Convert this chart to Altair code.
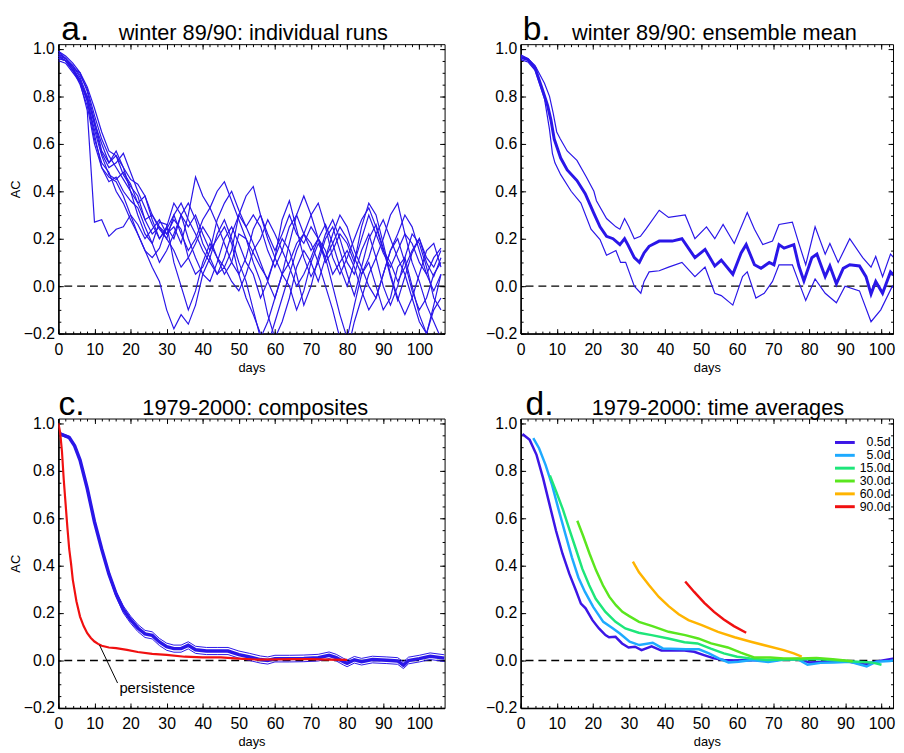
import altair as alt
import pandas as pd

FONT = "Liberation Sans"
BLUE = "#2a16e8"
RED = "#f01010"

# -----------------------------
# AXES
# -----------------------------
Y_MIN, Y_MAX = -0.2, 1.02
X_MAX_LEFT = 107
X_MAX_RIGHT = 103.2
X_MAJOR = [0, 10, 20, 30, 40, 50, 60, 70, 80, 90, 100]
X_MINOR = list(range(0, 108, 2))
Y_MAJOR = [-0.2, 0.0, 0.2, 0.4, 0.6, 0.8, 1.0]
Y_MINOR = [-0.2, -0.15, -0.1, -0.05, 0.0, 0.05, 0.1, 0.15, 0.2, 0.25, 0.3, 0.35,
           0.4, 0.45, 0.5, 0.55, 0.6, 0.65, 0.7, 0.75, 0.8, 0.85, 0.9, 0.95, 1.0]

W_LEFT, W_RIGHT, H = 391, 377, 293

# -----------------------------
# a. individual runs (every 2 days)
# -----------------------------
run_days = list(range(0, 107, 2))
run_01 = [0.97, 0.95, 0.91, 0.86, 0.74, 0.27, 0.28, 0.21, 0.24, 0.25,
          0.30, 0.26, 0.20, 0.24, 0.28, 0.22, 0.25, 0.18, 0.30, 0.46,
          0.38, 0.33, 0.40, 0.44, 0.36, 0.28, 0.20, 0.14, 0.08, 0.03,
          0.12, 0.28, 0.36, 0.24, 0.12, 0.04, 0.10, 0.20, 0.25, 0.15,
          0.05, -0.04, 0.08, 0.20, 0.26, 0.16, 0.04, -0.06, 0.04, 0.14,
          0.20, 0.10, 0.04, 0.12]
run_02 = [0.96, 0.95, 0.92, 0.90, 0.82, 0.70, 0.57, 0.52, 0.55, 0.47,
          0.42, 0.38, 0.28, 0.22, 0.25, 0.20, 0.30, 0.35, 0.28, 0.22,
          0.15, 0.10, 0.05, 0.12, 0.22, 0.30, 0.25, 0.18, 0.10, 0.02,
          -0.05, 0.05, 0.18, 0.30, 0.22, 0.15, 0.20, 0.26, 0.18, 0.08,
          0.00, 0.10, 0.25, 0.35, 0.30, 0.18, 0.05, -0.05, -0.12, -0.05,
          0.05, 0.15, 0.18, 0.08]
run_03 = [0.99, 0.96, 0.92, 0.87, 0.78, 0.62, 0.52, 0.48, 0.40, 0.35,
          0.28, 0.22, 0.15, 0.08, 0.02, -0.10, -0.18, -0.12, -0.16, -0.08,
          0.05, 0.12, 0.22, 0.28, 0.20, 0.10, 0.02, -0.10, -0.22, -0.15,
          -0.05, 0.05, 0.00, -0.10, -0.02, 0.10, 0.18, 0.12, 0.00, -0.12,
          -0.22, -0.08, 0.05, 0.10, 0.00, -0.10, -0.05, 0.08, 0.12, 0.00,
          -0.12, -0.20, -0.10, -0.05]
run_04 = [0.98, 0.96, 0.93, 0.88, 0.80, 0.68, 0.56, 0.50, 0.52, 0.56,
          0.48, 0.40, 0.33, 0.26, 0.20, 0.24, 0.30, 0.22, 0.15, 0.20,
          0.28, 0.33, 0.26, 0.18, 0.10, 0.05, 0.12, 0.24, 0.30, 0.22,
          0.15, 0.22, 0.30, 0.22, 0.18, 0.25, 0.20, 0.10, 0.15, 0.22,
          0.18, 0.10, 0.20, 0.30, 0.22, 0.14, 0.08, 0.15, 0.22, 0.18,
          0.10, 0.05, 0.12, 0.16]
run_05 = [0.96, 0.95, 0.91, 0.85, 0.76, 0.60, 0.50, 0.46, 0.44, 0.38,
          0.30, 0.22, 0.15, 0.12, 0.16, 0.25, 0.35, 0.30, 0.20, 0.12,
          0.05, 0.02, 0.10, 0.20, 0.25, 0.18, 0.10, 0.05, -0.05, 0.02,
          0.12, 0.20, 0.15, 0.05, -0.08, 0.00, 0.12, 0.22, 0.28, 0.20,
          0.10, 0.05, 0.15, 0.22, 0.12, 0.00, -0.08, 0.00, 0.12, 0.22,
          0.18, 0.08, -0.05, -0.10]
run_06 = [0.97, 0.96, 0.93, 0.89, 0.83, 0.72, 0.62, 0.55, 0.50, 0.45,
          0.40, 0.30, 0.22, 0.18, 0.27, 0.26, 0.10, 0.00, -0.10, -0.02,
          0.10, 0.18, 0.12, 0.05, 0.10, 0.22, 0.20, 0.10, 0.02, -0.12,
          -0.22, -0.15, -0.05, 0.08, 0.15, 0.10, 0.02, 0.12, 0.22, 0.30,
          0.25, 0.15, 0.08, 0.00, -0.05, 0.05, 0.15, 0.20, 0.10, -0.02,
          -0.10, -0.05, 0.05, 0.10]
run_07 = [0.98, 0.96, 0.92, 0.86, 0.78, 0.66, 0.55, 0.47, 0.45, 0.48,
          0.43, 0.35, 0.28, 0.30, 0.24, 0.20, 0.15, 0.08, 0.12, 0.18,
          0.25, 0.20, 0.12, 0.08, 0.15, 0.30, 0.38, 0.42, 0.30, 0.20,
          0.12, 0.05, 0.10, 0.18, 0.22, 0.30, 0.35, 0.25, 0.12, 0.05,
          0.12, 0.20, 0.28, 0.33, 0.25, 0.15, 0.10, 0.02, 0.08, 0.15,
          0.20, 0.12, 0.08, 0.15]
run_08 = [0.95, 0.94, 0.90, 0.86, 0.80, 0.69, 0.60, 0.52, 0.57, 0.50,
          0.45, 0.43, 0.38, 0.28, 0.20, 0.25, 0.20, 0.30, 0.35, 0.28,
          0.18, 0.12, 0.05, 0.08, 0.02, -0.02, 0.05, 0.15, 0.20, 0.28,
          0.22, 0.15, 0.08, 0.00, 0.05, 0.12, 0.20, 0.15, 0.05, 0.10,
          0.15, 0.08, -0.02, -0.10, -0.05, 0.05, 0.15, 0.22, 0.30, 0.25,
          0.15, 0.05, -0.02, 0.05]
run_09 = [0.97, 0.95, 0.91, 0.87, 0.79, 0.64, 0.50, 0.44, 0.46, 0.40,
          0.36, 0.33, 0.25, 0.18, 0.10, 0.15, 0.22, 0.30, 0.25, 0.30,
          0.22, 0.15, 0.20, 0.25, 0.18, 0.05, -0.05, -0.12, -0.20, -0.25,
          -0.15, -0.05, 0.05, 0.15, 0.22, 0.18, 0.10, 0.00, -0.10, -0.22,
          -0.28, -0.15, -0.05, 0.05, 0.12, 0.20, 0.30, 0.35, 0.22, 0.10,
          0.02, -0.08, -0.15, -0.22]
run_10 = [0.99, 0.97, 0.94, 0.90, 0.84, 0.75, 0.65, 0.57, 0.55, 0.50,
          0.40, 0.35, 0.38, 0.30, 0.25, 0.22, 0.28, 0.24, 0.12, 0.05,
          0.08, 0.15, 0.28, 0.35, 0.40, 0.32, 0.25, 0.30, 0.25, 0.15,
          0.08, 0.15, 0.25, 0.30, 0.38, 0.30, 0.20, 0.12, 0.18, 0.25,
          0.20, 0.12, 0.05, 0.12, 0.22, 0.28, 0.20, 0.12, 0.05, -0.05,
          -0.15, -0.20, -0.08, 0.05]
runs = [run_01, run_02, run_03, run_04, run_05, run_06, run_07, run_08, run_09, run_10]

# -----------------------------
# b. ensemble mean and spread
# -----------------------------
mean_days = [0, 2, 4, 6, 7.5, 8.4, 9.3, 11.1, 12.9, 15.6, 17.9, 20.2, 22, 23.8, 25.6,
             27.5, 28.8, 29.7, 31.5, 32.9, 34.2, 35.6, 38.4, 42, 44.7, 48.3, 51.1, 53.8,
             55.6, 58.8, 61.1, 62.5, 64.8, 66.6, 68.9, 70.2, 71.6, 73, 75.7, 77.1, 78.5,
             80.7, 82.1, 84.4, 85.7, 87.5, 89.4, 91.2, 93.9, 95.7, 97.1, 98.4, 100.3,
             102.5, 105.3]
mean_ac = [0.965, 0.955, 0.92, 0.83, 0.76, 0.70, 0.62, 0.54, 0.49, 0.445, 0.39, 0.31,
           0.25, 0.21, 0.20, 0.175, 0.20, 0.175, 0.12, 0.10, 0.14, 0.168, 0.19, 0.19,
           0.20, 0.12, 0.155, 0.085, 0.11, 0.05, 0.14, 0.175, 0.09, 0.075, 0.10, 0.09,
           0.175, 0.16, 0.175, 0.085, 0.022, 0.12, 0.135, 0.04, 0.085, 0.01, 0.075,
           0.09, 0.085, 0.04, -0.033, 0.02, -0.03, 0.06, 0.02]
upper_days = [0, 2, 4, 6.6, 8, 9, 10, 11, 12.9, 15.6, 18.2, 20.3, 21, 23.8, 26.4, 27.5,
              28.8, 30, 31.5, 33.2, 34.7, 38.4, 41, 45.6, 48.3, 51.5, 53.8, 56.1, 59.2,
              62.8, 64.8, 67.1, 69.8, 71.6, 75.3, 77.1, 79, 81.6, 84.4, 85.7, 88, 91.2,
              94.8, 97.1, 98.4, 100.3, 102.5, 105.3]
upper_ac = [0.975, 0.96, 0.93, 0.855, 0.80, 0.73, 0.65, 0.62, 0.57, 0.53, 0.46, 0.40,
            0.36, 0.285, 0.25, 0.24, 0.285, 0.25, 0.20, 0.21, 0.24, 0.32, 0.29, 0.30,
            0.20, 0.25, 0.20, 0.26, 0.18, 0.31, 0.24, 0.175, 0.19, 0.26, 0.27, 0.18,
            0.09, 0.25, 0.135, 0.18, 0.10, 0.20, 0.12, 0.08, 0.125, 0.04, 0.135, 0.09]
lower_days = [0, 2, 4, 6.6, 8, 8.8, 9.5, 11.1, 14, 16.7, 19.5, 22, 23.8, 26.4, 27.7,
              29.1, 31.5, 33.3, 34.2, 35.6, 38.4, 41, 44.7, 48.3, 51.1, 53.8, 55.6, 58.8,
              61.5, 62.8, 65.2, 67.5, 69.8, 71.6, 75.3, 77.5, 79, 81.6, 84.4, 87.5, 89.9,
              93.9, 97.1, 99.8, 103, 105.3]
lower_ac = [0.955, 0.945, 0.91, 0.79, 0.66, 0.56, 0.52, 0.47, 0.40, 0.35, 0.24, 0.196,
            0.13, 0.15, 0.10, 0.10, 0.0, -0.03, 0.02, 0.06, 0.065, 0.08, 0.10, 0.04,
            0.08, -0.03, -0.04, -0.08, 0.04, 0.06, -0.05, -0.03, 0.02, 0.09, 0.09, 0.0,
            -0.06, 0.03, -0.03, -0.07, 0.0, -0.02, -0.15, -0.10, 0.0, -0.05]

# -----------------------------
# c. composites and persistence
# -----------------------------
comp_days = [0.5, 3, 4.5, 6, 8, 10, 12, 14, 16, 18, 20, 22, 24, 26, 28, 30, 32, 34, 36,
             38, 41, 44, 47, 50, 53, 56, 58, 60, 64, 68, 72, 75, 77, 79, 80, 82, 84, 87,
             91, 94, 95.6, 97, 100, 103, 107]
comp_mid = [0.955, 0.94, 0.905, 0.845, 0.725, 0.585, 0.47, 0.365, 0.28, 0.215, 0.172,
            0.137, 0.112, 0.106, 0.078, 0.058, 0.05, 0.05, 0.064, 0.045, 0.04, 0.04,
            0.04, 0.025, 0.015, 0.004, 0.0, 0.008, 0.008, 0.009, 0.012, 0.022, 0.012,
            -0.005, -0.012, 0.003, -0.005, 0.004, 0.001, -0.002, -0.02, 0.0, 0.008,
            0.018, 0.01]
comp_hi = [0.96, 0.945, 0.91, 0.85, 0.73, 0.59, 0.475, 0.372, 0.29, 0.23, 0.187, 0.152,
           0.127, 0.121, 0.093, 0.073, 0.065, 0.065, 0.079, 0.06, 0.055, 0.055, 0.055,
           0.04, 0.03, 0.019, 0.015, 0.022, 0.022, 0.023, 0.026, 0.036, 0.026, 0.009,
           0.002, 0.017, 0.009, 0.018, 0.015, 0.012, -0.006, 0.014, 0.022, 0.032, 0.024]
comp_lo = [0.95, 0.935, 0.90, 0.84, 0.72, 0.58, 0.463, 0.356, 0.268, 0.2, 0.157, 0.122,
           0.097, 0.091, 0.063, 0.043, 0.035, 0.035, 0.049, 0.03, 0.025, 0.025, 0.025,
           0.01, 0.0, -0.011, -0.015, -0.006, -0.006, -0.005, -0.002, 0.008, -0.002,
           -0.019, -0.026, -0.011, -0.019, -0.01, -0.013, -0.016, -0.034, -0.014,
           -0.006, 0.004, -0.004]
pers_days = [0, 0.5, 1, 1.5, 2, 2.5, 3, 3.5, 4, 5, 6, 7, 8, 9, 10, 11, 12, 14, 16, 19,
             22, 26, 30, 35, 40, 45, 50, 55, 60, 65, 70, 75, 80]
pers_ac = [1.0, 0.96, 0.88, 0.76, 0.66, 0.56, 0.47, 0.41, 0.34, 0.25, 0.185, 0.145,
           0.115, 0.095, 0.08, 0.07, 0.062, 0.055, 0.052, 0.045, 0.036, 0.028, 0.024,
           0.016, 0.013, 0.013, 0.008, 0.004, 0.005, 0.006, 0.006, 0.004, 0.003]
note_label = "persistence"
note_day, note_ac = 16.9, -0.137
leader_day, leader_ac = [11.4, 16.4], [0.065, -0.095]

# -----------------------------
# d. time averages
# -----------------------------
WINDOWS = ["0.5d", "5.0d", "15.0d", "30.0d", "60.0d", "90.0d"]
WINDOW_COLORS = ["#3c16e6", "#1eaaff", "#1ee67a", "#5ae61e", "#ffb400", "#f01010"]
d05_days = [0.5, 2.5, 4.4, 6.2, 8, 9.8, 11.6, 13.5, 15.3, 16.7, 18, 19.9, 21.7, 23.5,
            24.5, 26.3, 28.1, 29.9, 31.7, 33.5, 36.3, 39, 45.4, 48.1, 50.8, 53.6, 56.3,
            59, 63.6, 68.1, 72.7, 77.3, 80, 84.6, 89.1, 95.5, 98.3, 101.9, 105.1]
d05_ac = [0.955, 0.93, 0.867, 0.77, 0.658, 0.547, 0.45, 0.365, 0.296, 0.24, 0.22, 0.17,
          0.135, 0.107, 0.098, 0.10, 0.072, 0.055, 0.058, 0.044, 0.06, 0.042, 0.042,
          0.037, 0.023, 0.009, 0.002, 0.0, 0.002, 0.0, 0.004, 0.006, -0.008, -0.005,
          0.0, -0.017, -0.005, 0.004, 0.013]
d5_days = [3.5, 5.1, 6.9, 8.7, 10.5, 12.4, 14.2, 16, 17.8, 20.1, 22.9, 25.6, 27.5, 30.2,
           32.9, 36.6, 39.4, 45.8, 49.4, 52.2, 54.9, 57.6, 60.4, 64, 68.6, 73.1, 76.8,
           79.5, 83.1, 86.8, 91.3, 95.9, 98.6, 102.3, 105.5]
d5_ac = [0.937, 0.895, 0.825, 0.74, 0.637, 0.533, 0.435, 0.35, 0.29, 0.226, 0.163,
         0.135, 0.114, 0.079, 0.065, 0.075, 0.051, 0.047, 0.047, 0.03, 0.009, -0.008,
         -0.005, 0.002, -0.006, 0.004, 0.006, -0.018, -0.01, -0.008, -0.005, -0.025,
         -0.005, -0.002, 0.006]
d15_days = [8.1, 9.8, 11.7, 13.5, 15.3, 17.1, 19, 20.8, 23.5, 26.3, 29, 32.7, 36.3, 40.9,
            45.4, 49, 52.7, 56.3, 60, 63.6, 68.1, 72.7, 77.3, 81.8, 86.3, 90.9, 94.6,
            97.3, 100]
d15_ac = [0.78, 0.714, 0.637, 0.553, 0.47, 0.386, 0.317, 0.26, 0.205, 0.163, 0.135,
          0.117, 0.107, 0.093, 0.077, 0.072, 0.05, 0.03, 0.016, 0.009, 0.002, 0.004,
          0.004, 0.006, 0.002, -0.003, -0.006, -0.008, -0.018]
d30_days = [15.7, 17.3, 19.1, 20.9, 22.8, 24.6, 26.4, 28.2, 30.1, 32.8, 36.5, 41, 45.6,
            49.2, 52.8, 57.4, 61, 64.7, 69.2, 72.9, 77.4, 82, 86.5, 92]
d30_ac = [0.589, 0.526, 0.45, 0.38, 0.317, 0.268, 0.233, 0.205, 0.187, 0.163, 0.145,
          0.121, 0.107, 0.093, 0.072, 0.055, 0.033, 0.013, 0.013, 0.009, 0.009, 0.011,
          0.005, -0.003]
d60_days = [31.1, 32.8, 35.6, 38.3, 41, 43.8, 46.5, 50.2, 54.7, 59.3, 63.8, 68.4, 72.9,
            75.7, 77.9]
d60_ac = [0.417, 0.372, 0.317, 0.268, 0.229, 0.195, 0.17, 0.149, 0.121, 0.098, 0.079,
          0.061, 0.044, 0.03, 0.016]
d90_days = [45.6, 48.1, 50.9, 53.6, 56.3, 59.1, 62.5]
d90_ac = [0.333, 0.289, 0.243, 0.205, 0.173, 0.145, 0.117]


ANCHOR = pd.DataFrame({"day": [0.0], "ac": [0.0]})


def scales(xmax):
    xs = alt.Scale(domain=[0, xmax], nice=False, zero=False)
    ys = alt.Scale(domain=[Y_MIN, Y_MAX], nice=False, zero=False)
    return xs, ys


def line_df(days, values, name="s"):
    return pd.DataFrame({"day": days, "ac": values, "series": name})


def line(df, xs, ys, color, width):
    return (
        alt.Chart(df)
        .mark_line(color=color, strokeWidth=width, clip=True)
        .encode(
            x=alt.X("day:Q", scale=xs, axis=None),
            y=alt.Y("ac:Q", scale=ys, axis=None),
            detail="series:N",
        )
    )


def frame_layers(xs, ys, w, y_title):
    # labelled axes outside, IDL style inward ticks on all four sides
    out = [
        alt.Chart(ANCHOR).mark_point(opacity=0).encode(
            x=alt.X("day:Q", scale=xs, axis=alt.Axis(
                orient="bottom", values=X_MAJOR, ticks=False, grid=False,
                domain=True, domainColor="black", domainWidth=1.5,
                labelPadding=8, labelFlush=False, labelOverlap=False, format="d",
                title="days", titlePadding=4)),
            y=alt.Y("ac:Q", scale=ys, axis=alt.Axis(
                orient="left", values=Y_MAJOR, ticks=False, grid=False,
                domain=True, domainColor="black", domainWidth=1.5,
                labelPadding=4, labelFlush=False, labelOverlap=False, format=".1f",
                title=y_title, titlePadding=1)),
        )
    ]
    for x_orient, y_orient in (("top", "right"), ("bottom", "left")):
        for vx, vy, size in ((X_MAJOR, Y_MAJOR, 5), (X_MINOR, Y_MINOR, 2.5)):
            out.append(alt.Chart(ANCHOR).mark_point(opacity=0).encode(
                x=alt.X("day:Q", scale=xs, axis=alt.Axis(
                    orient=x_orient, offset=-H, values=vx, tickSize=size,
                    labels=False, domain=False, grid=False, title=None)),
                y=alt.Y("ac:Q", scale=ys, axis=alt.Axis(
                    orient=y_orient, offset=-w, values=vy, tickSize=size,
                    labels=False, domain=False, grid=False, title=None)),
            ))
    return out


def zero_rule(ys):
    return alt.Chart(ANCHOR).mark_rule(color="black", strokeDash=[8, 5], strokeWidth=1.3).encode(
        y=alt.YDatum(0, scale=ys, axis=None)
    )


def heading(text, dx, size):
    return alt.Chart(ANCHOR).mark_text(
        text=text, font=FONT, fontSize=size, align="left", baseline="alphabetic", color="black"
    ).encode(x=alt.value(dx), y=alt.value(-4))


def panel(data_layers, xs, ys, w, ch, ch_dx, title, title_dx, y_title=None):
    layers = (
        [zero_rule(ys)]
        + data_layers
        + frame_layers(xs, ys, w, y_title)
        + [heading(ch, ch_dx, 34), heading(title, title_dx, 22)]
    )
    return (
        alt.layer(*layers)
        .resolve_axis(x="independent", y="independent")
        .properties(width=w, height=H)
    )


# -----------------------------
# PANELS
# -----------------------------
xs_a, ys_a = scales(X_MAX_LEFT)
runs_df = pd.concat(
    [line_df(run_days, r, "run%02d" % (i + 1)) for i, r in enumerate(runs)], ignore_index=True
)
panel_a = panel(
    [line(runs_df, xs_a, ys_a, BLUE, 1.2)],
    xs_a, ys_a, W_LEFT, "a.", 3, "winter 89/90: individual runs", 61, "AC",
)

xs_b, ys_b = scales(X_MAX_RIGHT)
panel_b = panel(
    [
        line(line_df(upper_days, upper_ac), xs_b, ys_b, BLUE, 1.2),
        line(line_df(lower_days, lower_ac), xs_b, ys_b, BLUE, 1.2),
        line(line_df(mean_days, mean_ac), xs_b, ys_b, BLUE, 3),
    ],
    xs_b, ys_b, W_RIGHT, "b.", 2, "winter 89/90: ensemble mean", 52,
)

xs_c, ys_c = scales(X_MAX_LEFT)
leader = (
    alt.Chart(pd.DataFrame({"d0": [leader_day[0]], "d1": [leader_day[1]],
                            "a0": [leader_ac[0]], "a1": [leader_ac[1]]}))
    .mark_rule(color="black", strokeWidth=1)
    .encode(
        x=alt.X("d0:Q", scale=xs_c, axis=None), x2="d1:Q",
        y=alt.Y("a0:Q", scale=ys_c, axis=None), y2="a1:Q",
    )
)
note = (
    alt.Chart(pd.DataFrame({"day": [note_day], "ac": [note_ac], "label": [note_label]}))
    .mark_text(font=FONT, fontSize=15, align="left", baseline="alphabetic", color="black")
    .encode(
        x=alt.X("day:Q", scale=xs_c, axis=None),
        y=alt.Y("ac:Q", scale=ys_c, axis=None),
        text="label:N",
    )
)
panel_c = panel(
    [
        line(line_df(comp_days, comp_hi), xs_c, ys_c, BLUE, 1),
        line(line_df(comp_days, comp_lo), xs_c, ys_c, BLUE, 1),
        line(line_df(comp_days, comp_mid), xs_c, ys_c, BLUE, 3.5),
        line(line_df(pers_days, pers_ac), xs_c, ys_c, RED, 2.2),
        leader,
        note,
    ],
    xs_c, ys_c, W_LEFT, "c.", 0, "1979-2000: composites", 85, "AC",
)

xs_d, ys_d = scales(X_MAX_RIGHT)
d_series = [
    ("0.5d", d05_days, d05_ac), ("5.0d", d5_days, d5_ac), ("15.0d", d15_days, d15_ac),
    ("30.0d", d30_days, d30_ac), ("60.0d", d60_days, d60_ac), ("90.0d", d90_days, d90_ac),
]
d_df = pd.concat([line_df(dd, aa, n) for n, dd, aa in d_series], ignore_index=True)
avg_lines = (
    alt.Chart(d_df)
    .mark_line(strokeWidth=2.5, clip=True)
    .encode(
        x=alt.X("day:Q", scale=xs_d, axis=None),
        y=alt.Y("ac:Q", scale=ys_d, axis=None),
        color=alt.Color(
            "series:N",
            scale=alt.Scale(domain=WINDOWS, range=WINDOW_COLORS),
            legend=alt.Legend(
                orient="none", legendX=328, legendY=18, title=None, padding=0,
                symbolType="M-4,0H1", symbolSize=64, symbolStrokeWidth=3,
                labelFont=FONT, labelFontSize=12.5, labelColor="black",
                labelAlign="right", labelOffset=34, rowPadding=0,
            ),
        ),
    )
)
panel_d = panel(
    [avg_lines], xs_d, ys_d, W_RIGHT, "d.", 5, "1979-2000: time averages", 72,
)

chart = (
    alt.vconcat(
        alt.hconcat(panel_a, panel_b, spacing=38).resolve_legend(color="independent"),
        alt.hconcat(panel_c, panel_d, spacing=38).resolve_legend(color="independent"),
        spacing=12,
    )
    .resolve_legend(color="independent")
    .properties(padding={"left": 0, "top": 0, "right": 0, "bottom": 0})
    .configure(font=FONT)
    .configure_view(stroke="black", strokeWidth=1)
    .configure_axis(
        labelFont=FONT, labelFontSize=16, labelColor="black",
        titleFont=FONT, titleFontSize=13, titleFontWeight="normal", titleColor="black",
        tickColor="black", tickWidth=1,
    )
)

chart.save("out.html", embed_options={"renderer": "svg", "actions": False})
